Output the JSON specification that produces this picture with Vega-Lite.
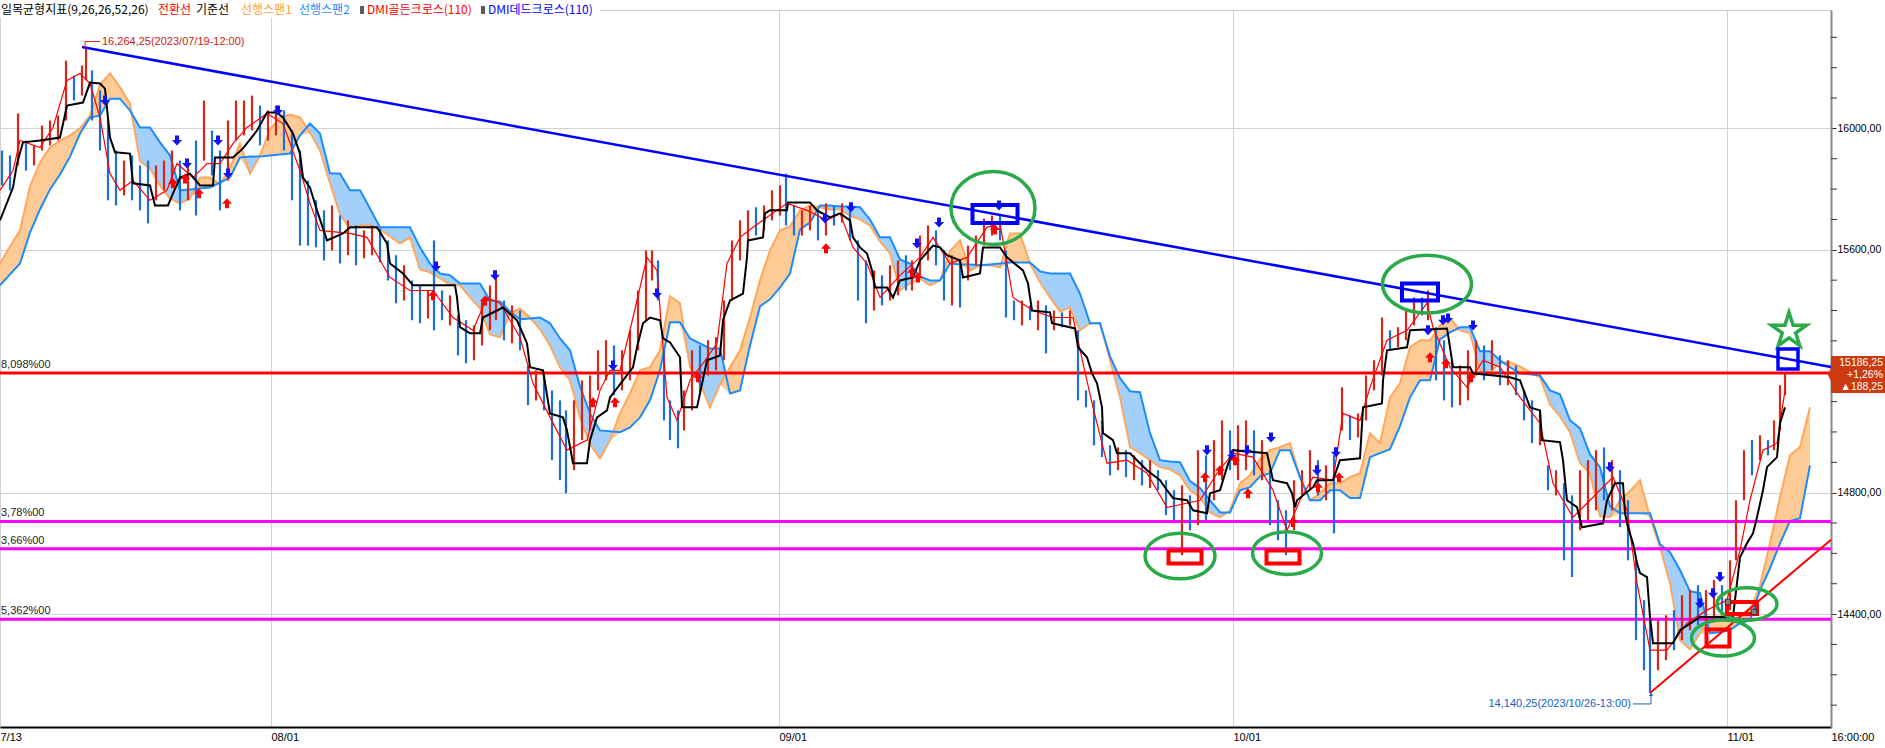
{
"$schema":"https://vega.github.io/schema/vega-lite/v6.json",
"width":1831,"height":717,
"autosize":{"type":"none"},
"padding":{"left":0,"top":10,"right":54,"bottom":21},
"background":"white",
"config":{"view":{"stroke":"#cfcfcf","strokeWidth":1},"font":"Liberation Sans"},
"resolve":{"scale":{"color":"independent"},"axis":{"x":"independent","y":"independent"}},
"datasets":{
"px":[{"i":2,"h":15927,"l":15812,"d":"d"},{"i":10,"h":15911,"l":15796,"d":"d"},{"i":18,"h":16049,"l":15878,"d":"u"},{"i":26,"h":15960,"l":15861,"d":"d"},{"i":34,"h":15944,"l":15878,"d":"u"},{"i":42,"h":16009,"l":15927,"d":"u"},{"i":50,"h":16026,"l":15944,"d":"u"},{"i":58,"h":16042,"l":15960,"d":"u"},{"i":66,"h":16223,"l":16026,"d":"u"},{"i":74,"h":16174,"l":16092,"d":"d"},{"i":82,"h":16207,"l":16108,"d":"u"},{"i":86,"h":16264,"l":16158,"d":"u"},{"i":92,"h":16191,"l":16026,"d":"d"},{"i":100,"h":16125,"l":15927,"d":"d"},{"i":108,"h":16026,"l":15763,"d":"d"},{"i":116,"h":15927,"l":15746,"d":"d"},{"i":124,"h":15894,"l":15779,"d":"u"},{"i":132,"h":15911,"l":15763,"d":"d"},{"i":140,"h":15878,"l":15730,"d":"d"},{"i":148,"h":15894,"l":15687,"d":"d"},{"i":156,"h":15878,"l":15763,"d":"u"},{"i":164,"h":15894,"l":15796,"d":"u"},{"i":172,"h":15927,"l":15812,"d":"u"},{"i":180,"h":15894,"l":15730,"d":"d"},{"i":188,"h":15894,"l":15763,"d":"u"},{"i":196,"h":15960,"l":15713,"d":"d"},{"i":204,"h":16092,"l":15894,"d":"u"},{"i":212,"h":15993,"l":15845,"d":"d"},{"i":220,"h":15927,"l":15730,"d":"d"},{"i":228,"h":16026,"l":15828,"d":"u"},{"i":236,"h":16092,"l":15960,"d":"u"},{"i":244,"h":16092,"l":15977,"d":"u"},{"i":252,"h":16108,"l":15993,"d":"u"},{"i":260,"h":16075,"l":15944,"d":"d"},{"i":268,"h":16059,"l":15960,"d":"u"},{"i":276,"h":16075,"l":15977,"d":"u"},{"i":284,"h":16059,"l":15927,"d":"d"},{"i":292,"h":15993,"l":15763,"d":"d"},{"i":300,"h":15927,"l":15614,"d":"d"},{"i":308,"h":15828,"l":15614,"d":"d"},{"i":316,"h":15763,"l":15608,"d":"d"},{"i":324,"h":15730,"l":15565,"d":"d"},{"i":332,"h":15746,"l":15598,"d":"u"},{"i":340,"h":15713,"l":15555,"d":"d"},{"i":348,"h":15697,"l":15582,"d":"u"},{"i":356,"h":15680,"l":15549,"d":"d"},{"i":364,"h":15664,"l":15572,"d":"u"},{"i":372,"h":15680,"l":15582,"d":"u"},{"i":380,"h":15670,"l":15559,"d":"d"},{"i":388,"h":15631,"l":15499,"d":"d"},{"i":396,"h":15582,"l":15424,"d":"d"},{"i":404,"h":15549,"l":15433,"d":"u"},{"i":412,"h":15499,"l":15368,"d":"d"},{"i":420,"h":15483,"l":15358,"d":"d"},{"i":428,"h":15466,"l":15374,"d":"u"},{"i":434,"h":15631,"l":15335,"d":"d"},{"i":442,"h":15466,"l":15368,"d":"d"},{"i":450,"h":15450,"l":15351,"d":"u"},{"i":458,"h":15384,"l":15252,"d":"d"},{"i":466,"h":15368,"l":15226,"d":"d"},{"i":474,"h":15351,"l":15236,"d":"u"},{"i":482,"h":15433,"l":15285,"d":"u"},{"i":490,"h":15483,"l":15335,"d":"u"},{"i":496,"h":15509,"l":15368,"d":"u"},{"i":504,"h":15433,"l":15302,"d":"d"},{"i":512,"h":15417,"l":15292,"d":"u"},{"i":520,"h":15400,"l":15269,"d":"d"},{"i":528,"h":15219,"l":15088,"d":"d"},{"i":536,"h":15203,"l":15104,"d":"u"},{"i":544,"h":15186,"l":15071,"d":"d"},{"i":552,"h":15137,"l":14907,"d":"d"},{"i":560,"h":15104,"l":14841,"d":"d"},{"i":566,"h":15071,"l":14798,"d":"d"},{"i":574,"h":15104,"l":14874,"d":"u"},{"i":582,"h":15170,"l":14973,"d":"u"},{"i":590,"h":15186,"l":15005,"d":"u"},{"i":598,"h":15269,"l":15137,"d":"u"},{"i":606,"h":15302,"l":15170,"d":"u"},{"i":614,"h":15285,"l":15121,"d":"d"},{"i":622,"h":15269,"l":15137,"d":"u"},{"i":630,"h":15335,"l":15170,"d":"u"},{"i":638,"h":15466,"l":15269,"d":"u"},{"i":646,"h":15598,"l":15368,"d":"u"},{"i":652,"h":15598,"l":15499,"d":"u"},{"i":658,"h":15565,"l":15433,"d":"d"},{"i":664,"h":15269,"l":15038,"d":"d"},{"i":670,"h":15104,"l":14973,"d":"d"},{"i":678,"h":15071,"l":14946,"d":"d"},{"i":684,"h":15137,"l":15005,"d":"u"},{"i":692,"h":15269,"l":15071,"d":"u"},{"i":700,"h":15285,"l":15121,"d":"d"},{"i":708,"h":15302,"l":15186,"d":"u"},{"i":716,"h":15312,"l":15203,"d":"u"},{"i":724,"h":15433,"l":15236,"d":"u"},{"i":732,"h":15631,"l":15433,"d":"u"},{"i":740,"h":15697,"l":15565,"d":"u"},{"i":748,"h":15730,"l":15631,"d":"u"},{"i":756,"h":15740,"l":15647,"d":"d"},{"i":764,"h":15746,"l":15664,"d":"u"},{"i":772,"h":15796,"l":15697,"d":"u"},{"i":780,"h":15812,"l":15713,"d":"u"},{"i":786,"h":15851,"l":15680,"d":"d"},{"i":794,"h":15746,"l":15647,"d":"d"},{"i":802,"h":15730,"l":15647,"d":"u"},{"i":810,"h":15746,"l":15664,"d":"u"},{"i":818,"h":15730,"l":15631,"d":"d"},{"i":826,"h":15753,"l":15647,"d":"u"},{"i":834,"h":15746,"l":15680,"d":"d"},{"i":842,"h":15753,"l":15690,"d":"u"},{"i":850,"h":15730,"l":15631,"d":"d"},{"i":858,"h":15631,"l":15433,"d":"d"},{"i":866,"h":15565,"l":15358,"d":"d"},{"i":874,"h":15532,"l":15400,"d":"u"},{"i":882,"h":15516,"l":15417,"d":"d"},{"i":890,"h":15549,"l":15433,"d":"u"},{"i":898,"h":15565,"l":15450,"d":"u"},{"i":906,"h":15582,"l":15466,"d":"d"},{"i":912,"h":15565,"l":15466,"d":"u"},{"i":920,"h":15647,"l":15516,"d":"u"},{"i":928,"h":15680,"l":15565,"d":"u"},{"i":936,"h":15664,"l":15549,"d":"d"},{"i":944,"h":15598,"l":15433,"d":"d"},{"i":952,"h":15582,"l":15417,"d":"u"},{"i":960,"h":15565,"l":15410,"d":"d"},{"i":968,"h":15614,"l":15499,"d":"u"},{"i":976,"h":15647,"l":15549,"d":"u"},{"i":984,"h":15703,"l":15614,"d":"u"},{"i":992,"h":15713,"l":15647,"d":"u"},{"i":1000,"h":15713,"l":15631,"d":"d"},{"i":1006,"h":15598,"l":15377,"d":"d"},{"i":1014,"h":15433,"l":15368,"d":"d"},{"i":1022,"h":15433,"l":15351,"d":"u"},{"i":1030,"h":15417,"l":15368,"d":"d"},{"i":1038,"h":15433,"l":15335,"d":"u"},{"i":1046,"h":15417,"l":15259,"d":"d"},{"i":1054,"h":15400,"l":15335,"d":"u"},{"i":1062,"h":15394,"l":15345,"d":"d"},{"i":1070,"h":15400,"l":15351,"d":"u"},{"i":1078,"h":15335,"l":15104,"d":"d"},{"i":1086,"h":15137,"l":15081,"d":"d"},{"i":1094,"h":15104,"l":14956,"d":"d"},{"i":1102,"h":15038,"l":14917,"d":"d"},{"i":1110,"h":14956,"l":14857,"d":"d"},{"i":1118,"h":14949,"l":14874,"d":"u"},{"i":1126,"h":14940,"l":14851,"d":"d"},{"i":1134,"h":14923,"l":14841,"d":"u"},{"i":1142,"h":14907,"l":14824,"d":"d"},{"i":1150,"h":14907,"l":14815,"d":"u"},{"i":1158,"h":14874,"l":14808,"d":"d"},{"i":1166,"h":14841,"l":14726,"d":"d"},{"i":1174,"h":14808,"l":14709,"d":"d"},{"i":1182,"h":14824,"l":14594,"d":"u"},{"i":1190,"h":14791,"l":14676,"d":"d"},{"i":1198,"h":14940,"l":14693,"d":"u"},{"i":1206,"h":14923,"l":14709,"d":"d"},{"i":1214,"h":14973,"l":14775,"d":"u"},{"i":1222,"h":15038,"l":14841,"d":"u"},{"i":1230,"h":15005,"l":14874,"d":"d"},{"i":1238,"h":15022,"l":14841,"d":"u"},{"i":1246,"h":15038,"l":14874,"d":"u"},{"i":1254,"h":15005,"l":14857,"d":"d"},{"i":1262,"h":14973,"l":14841,"d":"u"},{"i":1270,"h":14874,"l":14693,"d":"d"},{"i":1278,"h":14775,"l":14643,"d":"d"},{"i":1286,"h":14742,"l":14594,"d":"d"},{"i":1294,"h":14841,"l":14676,"d":"u"},{"i":1302,"h":14874,"l":14791,"d":"u"},{"i":1310,"h":14940,"l":14808,"d":"u"},{"i":1318,"h":14907,"l":14791,"d":"d"},{"i":1326,"h":14890,"l":14775,"d":"u"},{"i":1334,"h":14923,"l":14666,"d":"d"},{"i":1342,"h":15147,"l":15005,"d":"u"},{"i":1350,"h":15055,"l":14973,"d":"d"},{"i":1358,"h":15061,"l":14982,"d":"u"},{"i":1366,"h":15186,"l":15038,"d":"u"},{"i":1374,"h":15236,"l":15137,"d":"u"},{"i":1382,"h":15377,"l":15186,"d":"u"},{"i":1390,"h":15335,"l":15269,"d":"d"},{"i":1398,"h":15345,"l":15279,"d":"u"},{"i":1406,"h":15400,"l":15302,"d":"u"},{"i":1414,"h":15443,"l":15351,"d":"u"},{"i":1422,"h":15443,"l":15384,"d":"d"},{"i":1428,"h":15466,"l":15368,"d":"u"},{"i":1436,"h":15345,"l":15170,"d":"d"},{"i":1444,"h":15302,"l":15104,"d":"d"},{"i":1452,"h":15236,"l":15081,"d":"d"},{"i":1460,"h":15219,"l":15088,"d":"u"},{"i":1468,"h":15269,"l":15104,"d":"u"},{"i":1476,"h":15302,"l":15186,"d":"u"},{"i":1484,"h":15285,"l":15170,"d":"d"},{"i":1492,"h":15302,"l":15203,"d":"u"},{"i":1500,"h":15252,"l":15154,"d":"d"},{"i":1508,"h":15236,"l":15154,"d":"u"},{"i":1516,"h":15219,"l":15121,"d":"d"},{"i":1524,"h":15137,"l":15038,"d":"d"},{"i":1532,"h":15104,"l":14963,"d":"d"},{"i":1540,"h":15071,"l":14956,"d":"u"},{"i":1548,"h":14890,"l":14808,"d":"d"},{"i":1556,"h":14874,"l":14791,"d":"u"},{"i":1564,"h":14831,"l":14577,"d":"d"},{"i":1572,"h":14791,"l":14522,"d":"d"},{"i":1580,"h":14874,"l":14676,"d":"u"},{"i":1588,"h":14907,"l":14709,"d":"u"},{"i":1596,"h":14940,"l":14742,"d":"u"},{"i":1604,"h":14949,"l":14775,"d":"d"},{"i":1612,"h":14907,"l":14742,"d":"u"},{"i":1620,"h":14874,"l":14686,"d":"d"},{"i":1628,"h":14775,"l":14577,"d":"d"},{"i":1636,"h":14577,"l":14314,"d":"d"},{"i":1644,"h":14446,"l":14215,"d":"d"},{"i":1650,"h":14380,"l":14140,"d":"d"},{"i":1658,"h":14380,"l":14215,"d":"u"},{"i":1666,"h":14396,"l":14248,"d":"u"},{"i":1674,"h":14413,"l":14281,"d":"d"},{"i":1682,"h":14462,"l":14314,"d":"u"},{"i":1690,"h":14479,"l":14347,"d":"u"},{"i":1698,"h":14495,"l":14363,"d":"d"},{"i":1706,"h":14479,"l":14347,"d":"u"},{"i":1714,"h":14512,"l":14380,"d":"u"},{"i":1722,"h":14495,"l":14396,"d":"d"},{"i":1730,"h":14577,"l":14413,"d":"u"},{"i":1736,"h":14775,"l":14577,"d":"u"},{"i":1744,"h":14940,"l":14775,"d":"u"},{"i":1752,"h":14973,"l":14857,"d":"d"},{"i":1760,"h":14989,"l":14907,"d":"u"},{"i":1768,"h":14973,"l":14923,"d":"d"},{"i":1774,"h":15038,"l":14940,"d":"u"},{"i":1780,"h":15154,"l":15005,"d":"u"},{"i":1785,"h":15193,"l":15121,"d":"u"}],
"cloud":[{"i":0,"a":15555,"b":15483,"m":15483},{"i":10,"a":15611,"b":15519,"m":15519},{"i":20,"a":15664,"b":15555,"m":15555},{"i":30,"a":15809,"b":15657,"m":15657},{"i":40,"a":15888,"b":15733,"m":15733},{"i":50,"a":15937,"b":15799,"m":15799},{"i":60,"a":15960,"b":15848,"m":15848},{"i":70,"a":15977,"b":15907,"m":15907},{"i":80,"a":16000,"b":15983,"m":15983},{"i":90,"a":16042,"b":16036,"m":16036},{"i":100,"a":16144,"b":16042,"m":16042},{"i":110,"a":16181,"b":16098,"m":16098},{"i":120,"a":16135,"b":16098,"m":16098},{"i":130,"a":16082,"b":16059,"m":16059},{"i":140,"a":15891,"b":16003,"m":15891},{"i":150,"a":15868,"b":16003,"m":15868},{"i":160,"a":15812,"b":15954,"m":15812},{"i":170,"a":15769,"b":15911,"m":15769},{"i":180,"a":15753,"b":15796,"m":15753},{"i":190,"a":15769,"b":15799,"m":15769},{"i":200,"a":15838,"b":15802,"m":15802},{"i":210,"a":15838,"b":15805,"m":15805},{"i":220,"a":15815,"b":15822,"m":15815},{"i":230,"a":15871,"b":15838,"m":15838},{"i":240,"a":15950,"b":15904,"m":15904},{"i":250,"a":15851,"b":15907,"m":15851},{"i":260,"a":15911,"b":15907,"m":15907},{"i":270,"a":15996,"b":15911,"m":15911},{"i":280,"a":16036,"b":15914,"m":15914},{"i":290,"a":16046,"b":15917,"m":15917},{"i":300,"a":16036,"b":15977,"m":15977},{"i":310,"a":15986,"b":16016,"m":15986},{"i":320,"a":15927,"b":15983,"m":15927},{"i":330,"a":15819,"b":15851,"m":15819},{"i":340,"a":15716,"b":15851,"m":15716},{"i":350,"a":15670,"b":15796,"m":15670},{"i":360,"a":15680,"b":15796,"m":15680},{"i":370,"a":15680,"b":15736,"m":15680},{"i":380,"a":15667,"b":15674,"m":15667},{"i":390,"a":15644,"b":15674,"m":15644},{"i":400,"a":15621,"b":15674,"m":15621},{"i":410,"a":15641,"b":15674,"m":15641},{"i":420,"a":15535,"b":15608,"m":15535},{"i":430,"a":15526,"b":15555,"m":15526},{"i":440,"a":15506,"b":15522,"m":15506},{"i":450,"a":15486,"b":15516,"m":15486},{"i":460,"a":15483,"b":15489,"m":15483},{"i":470,"a":15443,"b":15489,"m":15443},{"i":480,"a":15407,"b":15489,"m":15407},{"i":490,"a":15321,"b":15433,"m":15321},{"i":500,"a":15312,"b":15430,"m":15312},{"i":510,"a":15391,"b":15397,"m":15391},{"i":520,"a":15407,"b":15371,"m":15371},{"i":530,"a":15377,"b":15374,"m":15374},{"i":540,"a":15338,"b":15377,"m":15338},{"i":550,"a":15285,"b":15358,"m":15285},{"i":560,"a":15213,"b":15308,"m":15213},{"i":570,"a":15170,"b":15269,"m":15170},{"i":580,"a":15048,"b":15150,"m":15048},{"i":590,"a":14959,"b":15061,"m":14959},{"i":600,"a":14913,"b":15005,"m":14913},{"i":610,"a":14972,"b":15002,"m":14972},{"i":620,"a":15061,"b":14999,"m":14999},{"i":630,"a":15127,"b":15015,"m":15015},{"i":640,"a":15203,"b":15048,"m":15048},{"i":650,"a":15213,"b":15104,"m":15104},{"i":660,"a":15269,"b":15203,"m":15203},{"i":670,"a":15447,"b":15361,"m":15361},{"i":680,"a":15424,"b":15361,"m":15361},{"i":690,"a":15213,"b":15308,"m":15213},{"i":700,"a":15160,"b":15292,"m":15160},{"i":710,"a":15081,"b":15275,"m":15081},{"i":720,"a":15157,"b":15275,"m":15157},{"i":730,"a":15213,"b":15127,"m":15127},{"i":740,"a":15269,"b":15137,"m":15137},{"i":750,"a":15377,"b":15285,"m":15285},{"i":760,"a":15499,"b":15414,"m":15414},{"i":770,"a":15598,"b":15437,"m":15437},{"i":780,"a":15664,"b":15476,"m":15476},{"i":790,"a":15677,"b":15522,"m":15522},{"i":800,"a":15730,"b":15667,"m":15667},{"i":810,"a":15746,"b":15690,"m":15690},{"i":820,"a":15740,"b":15746,"m":15740},{"i":830,"a":15733,"b":15746,"m":15733},{"i":840,"a":15733,"b":15743,"m":15733},{"i":850,"a":15713,"b":15743,"m":15713},{"i":860,"a":15700,"b":15740,"m":15700},{"i":870,"a":15680,"b":15700,"m":15680},{"i":880,"a":15628,"b":15641,"m":15628},{"i":890,"a":15588,"b":15641,"m":15588},{"i":900,"a":15466,"b":15568,"m":15466},{"i":910,"a":15489,"b":15555,"m":15489},{"i":920,"a":15506,"b":15512,"m":15506},{"i":930,"a":15483,"b":15499,"m":15483},{"i":940,"a":15499,"b":15499,"m":15499},{"i":950,"a":15595,"b":15555,"m":15555},{"i":960,"a":15631,"b":15552,"m":15552},{"i":970,"a":15532,"b":15552,"m":15532},{"i":980,"a":15549,"b":15549,"m":15549},{"i":990,"a":15549,"b":15552,"m":15549},{"i":1000,"a":15542,"b":15555,"m":15542},{"i":1010,"a":15654,"b":15558,"m":15558},{"i":1020,"a":15654,"b":15558,"m":15558},{"i":1030,"a":15555,"b":15558,"m":15555},{"i":1040,"a":15493,"b":15529,"m":15493},{"i":1050,"a":15443,"b":15522,"m":15443},{"i":1060,"a":15397,"b":15522,"m":15397},{"i":1070,"a":15410,"b":15522,"m":15410},{"i":1080,"a":15335,"b":15456,"m":15335},{"i":1090,"a":15358,"b":15358,"m":15358},{"i":1100,"a":15358,"b":15358,"m":15358},{"i":1110,"a":15236,"b":15249,"m":15236},{"i":1120,"a":15114,"b":15177,"m":15114},{"i":1130,"a":14950,"b":15134,"m":14950},{"i":1140,"a":14930,"b":15131,"m":14930},{"i":1150,"a":14907,"b":14996,"m":14907},{"i":1160,"a":14884,"b":14907,"m":14884},{"i":1170,"a":14877,"b":14903,"m":14877},{"i":1180,"a":14857,"b":14900,"m":14857},{"i":1190,"a":14808,"b":14838,"m":14808},{"i":1200,"a":14785,"b":14815,"m":14785},{"i":1210,"a":14735,"b":14775,"m":14735},{"i":1220,"a":14719,"b":14735,"m":14719},{"i":1230,"a":14742,"b":14735,"m":14735},{"i":1240,"a":14831,"b":14808,"m":14808},{"i":1250,"a":14857,"b":14818,"m":14818},{"i":1260,"a":14910,"b":14854,"m":14854},{"i":1270,"a":14940,"b":14864,"m":14864},{"i":1280,"a":14950,"b":14940,"m":14940},{"i":1290,"a":14963,"b":14940,"m":14940},{"i":1300,"a":14851,"b":14851,"m":14851},{"i":1310,"a":14775,"b":14775,"m":14775},{"i":1320,"a":14798,"b":14775,"m":14775},{"i":1330,"a":14831,"b":14808,"m":14808},{"i":1340,"a":14831,"b":14808,"m":14808},{"i":1350,"a":14851,"b":14782,"m":14782},{"i":1360,"a":14864,"b":14782,"m":14782},{"i":1370,"a":14996,"b":14917,"m":14917},{"i":1380,"a":14963,"b":14930,"m":14930},{"i":1390,"a":15114,"b":14943,"m":14943},{"i":1400,"a":15160,"b":15019,"m":15019},{"i":1410,"a":15279,"b":15114,"m":15114},{"i":1420,"a":15302,"b":15170,"m":15170},{"i":1430,"a":15302,"b":15170,"m":15170},{"i":1440,"a":15351,"b":15305,"m":15305},{"i":1450,"a":15374,"b":15328,"m":15328},{"i":1460,"a":15335,"b":15345,"m":15335},{"i":1470,"a":15325,"b":15345,"m":15325},{"i":1480,"a":15203,"b":15266,"m":15203},{"i":1490,"a":15196,"b":15266,"m":15196},{"i":1500,"a":15229,"b":15236,"m":15229},{"i":1510,"a":15229,"b":15213,"m":15213},{"i":1520,"a":15216,"b":15193,"m":15193},{"i":1530,"a":15196,"b":15190,"m":15190},{"i":1540,"a":15180,"b":15186,"m":15180},{"i":1550,"a":15091,"b":15137,"m":15091},{"i":1560,"a":15051,"b":15124,"m":15051},{"i":1570,"a":14999,"b":15038,"m":14999},{"i":1580,"a":14897,"b":15012,"m":14897},{"i":1590,"a":14864,"b":14926,"m":14864},{"i":1600,"a":14722,"b":14884,"m":14722},{"i":1610,"a":14719,"b":14755,"m":14719},{"i":1620,"a":14775,"b":14732,"m":14732},{"i":1630,"a":14805,"b":14732,"m":14732},{"i":1640,"a":14841,"b":14732,"m":14732},{"i":1650,"a":14719,"b":14732,"m":14719},{"i":1660,"a":14620,"b":14630,"m":14620},{"i":1670,"a":14502,"b":14604,"m":14502},{"i":1680,"a":14314,"b":14545,"m":14314},{"i":1690,"a":14284,"b":14475,"m":14284},{"i":1700,"a":14337,"b":14469,"m":14337},{"i":1710,"a":14390,"b":14337,"m":14337},{"i":1720,"a":14393,"b":14340,"m":14340},{"i":1730,"a":14397,"b":14347,"m":14347},{"i":1740,"a":14400,"b":14370,"m":14370},{"i":1750,"a":14410,"b":14380,"m":14380},{"i":1760,"a":14495,"b":14479,"m":14479},{"i":1770,"a":14633,"b":14551,"m":14551},{"i":1780,"a":14785,"b":14633,"m":14633},{"i":1790,"a":14923,"b":14706,"m":14706},{"i":1800,"a":14950,"b":14716,"m":14716},{"i":1810,"a":15081,"b":14890,"m":14890}],
"tk":[{"i":0,"v":15796},{"i":13,"v":15861},{"i":20,"v":15960},{"i":40,"v":15937},{"i":53,"v":16003},{"i":67,"v":16158},{"i":80,"v":16181},{"i":90,"v":16148},{"i":100,"v":16036},{"i":110,"v":15851},{"i":120,"v":15796},{"i":133,"v":15828},{"i":150,"v":15763},{"i":167,"v":15796},{"i":177,"v":15884},{"i":193,"v":15838},{"i":207,"v":15884},{"i":220,"v":15884},{"i":233,"v":15950},{"i":247,"v":16003},{"i":267,"v":16049},{"i":283,"v":16016},{"i":300,"v":15861},{"i":310,"v":15753},{"i":320,"v":15664},{"i":350,"v":15654},{"i":367,"v":15641},{"i":390,"v":15509},{"i":410,"v":15466},{"i":433,"v":15466},{"i":453,"v":15377},{"i":473,"v":15335},{"i":487,"v":15443},{"i":500,"v":15424},{"i":520,"v":15312},{"i":533,"v":15160},{"i":553,"v":15029},{"i":567,"v":14940},{"i":587,"v":14973},{"i":600,"v":15137},{"i":610,"v":15203},{"i":620,"v":15203},{"i":633,"v":15377},{"i":647,"v":15575},{"i":657,"v":15532},{"i":667,"v":15114},{"i":677,"v":15038},{"i":690,"v":15170},{"i":703,"v":15226},{"i":717,"v":15292},{"i":727,"v":15555},{"i":740,"v":15641},{"i":753,"v":15674},{"i":767,"v":15707},{"i":787,"v":15753},{"i":807,"v":15730},{"i":827,"v":15697},{"i":840,"v":15720},{"i":853,"v":15608},{"i":867,"v":15555},{"i":880,"v":15443},{"i":900,"v":15516},{"i":920,"v":15575},{"i":933,"v":15641},{"i":950,"v":15555},{"i":967,"v":15575},{"i":987,"v":15674},{"i":1000,"v":15687},{"i":1013,"v":15443},{"i":1033,"v":15400},{"i":1053,"v":15377},{"i":1073,"v":15377},{"i":1083,"v":15226},{"i":1093,"v":15081},{"i":1107,"v":14897},{"i":1127,"v":14907},{"i":1147,"v":14864},{"i":1167,"v":14752},{"i":1187,"v":14765},{"i":1200,"v":14775},{"i":1217,"v":14864},{"i":1233,"v":14930},{"i":1253,"v":14917},{"i":1273,"v":14808},{"i":1287,"v":14676},{"i":1300,"v":14775},{"i":1313,"v":14851},{"i":1333,"v":14841},{"i":1343,"v":15061},{"i":1360,"v":15038},{"i":1370,"v":15147},{"i":1387,"v":15302},{"i":1407,"v":15335},{"i":1427,"v":15424},{"i":1433,"v":15345},{"i":1450,"v":15213},{"i":1467,"v":15147},{"i":1483,"v":15236},{"i":1500,"v":15213},{"i":1520,"v":15114},{"i":1540,"v":15029},{"i":1553,"v":14831},{"i":1573,"v":14719},{"i":1587,"v":14765},{"i":1613,"v":14851},{"i":1627,"v":14742},{"i":1637,"v":14502},{"i":1650,"v":14281},{"i":1667,"v":14281},{"i":1687,"v":14370},{"i":1707,"v":14413},{"i":1727,"v":14446},{"i":1740,"v":14610},{"i":1750,"v":14775},{"i":1763,"v":14940},{"i":1777,"v":14963},{"i":1785,"v":15137}],
"kj":[{"i":0,"v":15697},{"i":13,"v":15805},{"i":17,"v":15884},{"i":23,"v":15954},{"i":40,"v":15960},{"i":60,"v":15970},{"i":67,"v":16075},{"i":83,"v":16085},{"i":90,"v":16151},{"i":100,"v":16148},{"i":105,"v":16131},{"i":110,"v":15970},{"i":115,"v":15921},{"i":130,"v":15917},{"i":133,"v":15819},{"i":150,"v":15812},{"i":155,"v":15746},{"i":168,"v":15746},{"i":173,"v":15786},{"i":180,"v":15838},{"i":190,"v":15851},{"i":200,"v":15812},{"i":213,"v":15812},{"i":215,"v":15904},{"i":233,"v":15904},{"i":243,"v":15934},{"i":257,"v":15993},{"i":267,"v":16052},{"i":277,"v":16052},{"i":283,"v":16036},{"i":293,"v":15983},{"i":300,"v":15917},{"i":303,"v":15838},{"i":310,"v":15805},{"i":317,"v":15730},{"i":327,"v":15631},{"i":343,"v":15654},{"i":350,"v":15674},{"i":377,"v":15674},{"i":387,"v":15621},{"i":390,"v":15555},{"i":403,"v":15522},{"i":413,"v":15483},{"i":455,"v":15483},{"i":457,"v":15443},{"i":460,"v":15345},{"i":470,"v":15325},{"i":480,"v":15325},{"i":483,"v":15377},{"i":503,"v":15410},{"i":517,"v":15368},{"i":527,"v":15292},{"i":530,"v":15213},{"i":543,"v":15203},{"i":550,"v":15061},{"i":563,"v":15048},{"i":567,"v":15005},{"i":573,"v":14897},{"i":587,"v":14897},{"i":590,"v":14973},{"i":597,"v":15048},{"i":607,"v":15071},{"i":610,"v":15114},{"i":633,"v":15213},{"i":637,"v":15279},{"i":643,"v":15358},{"i":650,"v":15377},{"i":660,"v":15368},{"i":663,"v":15308},{"i":670,"v":15295},{"i":680,"v":15246},{"i":682,"v":15081},{"i":697,"v":15081},{"i":700,"v":15127},{"i":707,"v":15236},{"i":720,"v":15252},{"i":723,"v":15368},{"i":730,"v":15433},{"i":743,"v":15456},{"i":747,"v":15575},{"i":748,"v":15631},{"i":763,"v":15641},{"i":765,"v":15720},{"i":770,"v":15730},{"i":787,"v":15730},{"i":788,"v":15756},{"i":810,"v":15756},{"i":817,"v":15730},{"i":830,"v":15707},{"i":840,"v":15720},{"i":850,"v":15697},{"i":853,"v":15641},{"i":860,"v":15608},{"i":867,"v":15588},{"i":872,"v":15532},{"i":875,"v":15476},{"i":887,"v":15476},{"i":893,"v":15443},{"i":900,"v":15499},{"i":913,"v":15509},{"i":920,"v":15565},{"i":933,"v":15614},{"i":940,"v":15608},{"i":947,"v":15582},{"i":960,"v":15565},{"i":963,"v":15509},{"i":980,"v":15522},{"i":983,"v":15608},{"i":1000,"v":15608},{"i":1007,"v":15575},{"i":1023,"v":15532},{"i":1028,"v":15489},{"i":1032,"v":15400},{"i":1050,"v":15394},{"i":1052,"v":15358},{"i":1075,"v":15341},{"i":1078,"v":15279},{"i":1087,"v":15246},{"i":1092,"v":15193},{"i":1097,"v":15160},{"i":1102,"v":15081},{"i":1103,"v":14996},{"i":1113,"v":14973},{"i":1117,"v":14930},{"i":1130,"v":14930},{"i":1140,"v":14897},{"i":1147,"v":14874},{"i":1160,"v":14841},{"i":1167,"v":14808},{"i":1173,"v":14782},{"i":1187,"v":14775},{"i":1193,"v":14742},{"i":1207,"v":14732},{"i":1210,"v":14798},{"i":1220,"v":14808},{"i":1227,"v":14884},{"i":1233,"v":14940},{"i":1267,"v":14930},{"i":1273,"v":14841},{"i":1287,"v":14831},{"i":1292,"v":14798},{"i":1295,"v":14752},{"i":1297,"v":14775},{"i":1313,"v":14818},{"i":1317,"v":14841},{"i":1333,"v":14841},{"i":1340,"v":14907},{"i":1360,"v":14913},{"i":1363,"v":15081},{"i":1382,"v":15094},{"i":1383,"v":15170},{"i":1387,"v":15269},{"i":1407,"v":15279},{"i":1410,"v":15335},{"i":1447,"v":15341},{"i":1450,"v":15279},{"i":1453,"v":15213},{"i":1470,"v":15213},{"i":1473,"v":15193},{"i":1510,"v":15180},{"i":1520,"v":15170},{"i":1530,"v":15081},{"i":1540,"v":15071},{"i":1542,"v":14973},{"i":1560,"v":14966},{"i":1563,"v":14907},{"i":1567,"v":14775},{"i":1577,"v":14752},{"i":1582,"v":14686},{"i":1603,"v":14699},{"i":1607,"v":14775},{"i":1615,"v":14831},{"i":1623,"v":14831},{"i":1625,"v":14732},{"i":1628,"v":14686},{"i":1633,"v":14633},{"i":1637,"v":14568},{"i":1640,"v":14535},{"i":1647,"v":14522},{"i":1650,"v":14390},{"i":1653,"v":14304},{"i":1673,"v":14304},{"i":1680,"v":14347},{"i":1700,"v":14390},{"i":1733,"v":14390},{"i":1740,"v":14587},{"i":1747,"v":14633},{"i":1753,"v":14666},{"i":1757,"v":14719},{"i":1763,"v":14808},{"i":1767,"v":14884},{"i":1777,"v":14917},{"i":1780,"v":15029},{"i":1785,"v":15081}],
"dn":[{"i":105,"v":16092},{"i":177,"v":15960},{"i":187,"v":15884},{"i":218,"v":15960},{"i":228,"v":15851},{"i":278,"v":16059},{"i":436,"v":15545},{"i":495,"v":15516},{"i":613,"v":15219},{"i":657,"v":15456},{"i":825,"v":15703},{"i":851,"v":15740},{"i":917,"v":15621},{"i":939,"v":15690},{"i":999,"v":15746},{"i":1207,"v":14940},{"i":1232,"v":14923},{"i":1247,"v":14940},{"i":1271,"v":14982},{"i":1317,"v":14874},{"i":1336,"v":14933},{"i":1428,"v":15335},{"i":1443,"v":15368},{"i":1448,"v":15374},{"i":1473,"v":15351},{"i":1610,"v":14884},{"i":1700,"v":14436},{"i":1713,"v":14469},{"i":1720,"v":14522}],
"up":[{"i":173,"v":15819},{"i":185,"v":15835},{"i":199,"v":15786},{"i":227,"v":15753},{"i":433,"v":15450},{"i":485,"v":15433},{"i":593,"v":15098},{"i":615,"v":15098},{"i":698,"v":15180},{"i":826,"v":15605},{"i":912,"v":15526},{"i":918,"v":15509},{"i":995,"v":15667},{"i":1205,"v":14851},{"i":1220,"v":14874},{"i":1235,"v":14907},{"i":1248,"v":14798},{"i":1293,"v":14703},{"i":1318,"v":14818},{"i":1339,"v":14851},{"i":1430,"v":15246},{"i":1446,"v":15226},{"i":1471,"v":15180}],
"minor":[{"i":1834,"v":14100},{"i":1834,"v":14200},{"i":1834,"v":14300},{"i":1834,"v":14500},{"i":1834,"v":14600},{"i":1834,"v":14700},{"i":1834,"v":14900},{"i":1834,"v":15000},{"i":1834,"v":15100},{"i":1834,"v":15200},{"i":1834,"v":15300},{"i":1834,"v":15400},{"i":1834,"v":15500},{"i":1834,"v":15700},{"i":1834,"v":15800},{"i":1834,"v":15900},{"i":1834,"v":16100},{"i":1834,"v":16200},{"i":1834,"v":16300}]
},
"layer":[
{"data":{"name":"cloud"},"mark":{"type":"area","color":"#a3d0fb","opacity":1},
 "encoding":{"x":{"field":"i","type":"quantitative","scale":{"domain":[0,1831],"nice":false,"zero":false},
   "axis":{"values":[0,271,779,1233,1727,1831],"labelExpr":"datum.value==0?'7/13':datum.value==271?'08/01':datum.value==779?'09/01':datum.value==1233?'10/01':datum.value==1727?'11/01':'16:00:00'","labelAlign":"left","labelFlush":false,"labelOverlap":false,"labelBound":false,"grid":true,"gridColor":"#d2d2d2","gridWidth":1,"domainColor":"#000000","domainWidth":2,"ticks":false,"labelPadding":4,"labelFont":"Liberation Sans","labelFontSize":11,"labelColor":"#000000","title":null}},
  "y":{"field":"b","type":"quantitative","scale":{"domain":[14028,16390],"nice":false,"zero":false},
   "axis":{"orient":"right","values":[14400,14800,15600,16000],"labelExpr":"replace(format(datum.value,'.2f'),'.',',')","grid":true,"gridColor":"#d2d2d2","gridWidth":1,"tickSize":5,"tickColor":"#333333","domainColor":"#8a8a8a","domainWidth":2,"labelFont":"Liberation Sans","labelFontSize":10.5,"labelColor":"#000000","labelPadding":1,"labelOverlap":false,"labelFlush":false,"labelBound":false,"title":null}},
  "y2":{"field":"m"}}},
{"data":{"name":"cloud"},"mark":{"type":"area","color":"#fecb97","opacity":1},
 "encoding":{"x":{"field":"i","type":"quantitative","scale":{"domain":[0,1831],"nice":false,"zero":false},"axis":null},"y":{"field":"a","type":"quantitative","scale":{"domain":[14028,16390],"nice":false,"zero":false},"axis":null},"y2":{"field":"m"}}},
{"data":{"name":"cloud"},"mark":{"type":"line","color":"#ffa75c","strokeWidth":2},
 "encoding":{"x":{"field":"i","type":"quantitative","scale":{"domain":[0,1831],"nice":false,"zero":false},"axis":null},"y":{"field":"a","type":"quantitative","scale":{"domain":[14028,16390],"nice":false,"zero":false},"axis":null}}},
{"data":{"name":"cloud"},"mark":{"type":"line","color":"#1a8cff","strokeWidth":2},
 "encoding":{"x":{"field":"i","type":"quantitative","scale":{"domain":[0,1831],"nice":false,"zero":false},"axis":null},"y":{"field":"b","type":"quantitative","scale":{"domain":[14028,16390],"nice":false,"zero":false},"axis":null}}},
{"data":{"values":[{"v":15194,"k":"r"},{"v":14705,"k":"m"},{"v":14615,"k":"m"},{"v":14383,"k":"m"}]},"mark":{"type":"rule","strokeWidth":3},
 "encoding":{"y":{"field":"v","type":"quantitative","scale":{"domain":[14028,16390],"nice":false,"zero":false},"axis":null},"color":{"field":"k","type":"nominal","scale":{"domain":["r","m"],"range":["#ff0000","#ff00ff"]},"legend":null}}},
{"data":{"name":"minor"},"mark":{"type":"point","shape":"stroke","size":36,"filled":false,"color":"#333333","strokeWidth":1,"opacity":1},
 "encoding":{"x":{"field":"i","type":"quantitative","scale":{"domain":[0,1831],"nice":false,"zero":false},"axis":null},"y":{"field":"v","type":"quantitative","scale":{"domain":[14028,16390],"nice":false,"zero":false},"axis":null}}},
{"data":{"values":[{"i":1,"v":15194,"t":"8,098%00"},{"i":1,"v":14705,"t":"3,78%00"},{"i":1,"v":14615,"t":"3,66%00"},{"i":1,"v":14383,"t":"5,362%00"}]},"mark":{"type":"text","align":"left","baseline":"bottom","dy":-3,"font":"Liberation Sans","fontSize":11,"color":"#222222"},
 "encoding":{"x":{"field":"i","type":"quantitative","scale":{"domain":[0,1831],"nice":false,"zero":false},"axis":null},"y":{"field":"v","type":"quantitative","scale":{"domain":[14028,16390],"nice":false,"zero":false},"axis":null},"text":{"field":"t"}}},
{"data":{"name":"px"},"mark":{"type":"rule","strokeWidth":2.2},
 "encoding":{"x":{"field":"i","type":"quantitative","scale":{"domain":[0,1831],"nice":false,"zero":false},"axis":null},"y":{"field":"h","type":"quantitative","scale":{"domain":[14028,16390],"nice":false,"zero":false},"axis":null},"y2":{"field":"l"},"color":{"field":"d","type":"nominal","scale":{"domain":["u","d"],"range":["#d5261c","#1d6fd6"]},"legend":null}}},
{"data":{"name":"tk"},"mark":{"type":"line","color":"#ff0000","strokeWidth":1.2},
 "encoding":{"x":{"field":"i","type":"quantitative","scale":{"domain":[0,1831],"nice":false,"zero":false},"axis":null},"y":{"field":"v","type":"quantitative","scale":{"domain":[14028,16390],"nice":false,"zero":false},"axis":null}}},
{"data":{"name":"kj"},"mark":{"type":"line","color":"#000000","strokeWidth":2},
 "encoding":{"x":{"field":"i","type":"quantitative","scale":{"domain":[0,1831],"nice":false,"zero":false},"axis":null},"y":{"field":"v","type":"quantitative","scale":{"domain":[14028,16390],"nice":false,"zero":false},"axis":null}}},
{"data":{"values":[{"i":82,"v":16268},{"i":1831,"v":15214}]},"mark":{"type":"line","color":"#0000ff","strokeWidth":2.5},
 "encoding":{"x":{"field":"i","type":"quantitative","scale":{"domain":[0,1831],"nice":false,"zero":false},"axis":null},"y":{"field":"v","type":"quantitative","scale":{"domain":[14028,16390],"nice":false,"zero":false},"axis":null}}},
{"data":{"values":[{"i":1650,"v":14140},{"i":1831,"v":14645}]},"mark":{"type":"line","color":"#ff0000","strokeWidth":2},
 "encoding":{"x":{"field":"i","type":"quantitative","scale":{"domain":[0,1831],"nice":false,"zero":false},"axis":null},"y":{"field":"v","type":"quantitative","scale":{"domain":[14028,16390],"nice":false,"zero":false},"axis":null}}},
{"data":{"name":"dn"},"mark":{"type":"point","shape":"M-0.4,-1H0.4V-0.1H1L0,1L-1,-0.1H-0.4Z","size":100,"filled":true,"color":"#1010f0","opacity":1,"strokeWidth":0},
 "encoding":{"x":{"field":"i","type":"quantitative","scale":{"domain":[0,1831],"nice":false,"zero":false},"axis":null},"y":{"field":"v","type":"quantitative","scale":{"domain":[14028,16390],"nice":false,"zero":false},"axis":null}}},
{"data":{"name":"up"},"mark":{"type":"point","shape":"M-0.4,1H0.4V0.1H1L0,-1L-1,0.1H-0.4Z","size":100,"filled":true,"color":"#ff0000","opacity":1,"strokeWidth":0},
 "encoding":{"x":{"field":"i","type":"quantitative","scale":{"domain":[0,1831],"nice":false,"zero":false},"axis":null},"y":{"field":"v","type":"quantitative","scale":{"domain":[14028,16390],"nice":false,"zero":false},"axis":null}}},
{"data":{"values":[{"i":993,"v":15738}]},"mark":{"type":"point","shape":"M-1,0A1,0.87 0 1,0 1,0A1,0.87 0 1,0 -1,0Z","size":7056,"filled":false,"color":"#2aab4a","strokeWidth":3.5,"opacity":1},
 "encoding":{"x":{"field":"i","type":"quantitative","scale":{"domain":[0,1831],"nice":false,"zero":false},"axis":null},"y":{"field":"v","type":"quantitative","scale":{"domain":[14028,16390],"nice":false,"zero":false},"axis":null}}},
{"data":{"values":[{"i":1427,"v":15487}]},"mark":{"type":"point","shape":"M-1,0A1,0.65 0 1,0 1,0A1,0.65 0 1,0 -1,0Z","size":7921,"filled":false,"color":"#2aab4a","strokeWidth":3.5,"opacity":1},
 "encoding":{"x":{"field":"i","type":"quantitative","scale":{"domain":[0,1831],"nice":false,"zero":false},"axis":null},"y":{"field":"v","type":"quantitative","scale":{"domain":[14028,16390],"nice":false,"zero":false},"axis":null}}},
{"data":{"values":[{"i":1180,"v":14591}]},"mark":{"type":"point","shape":"M-1,0A1,0.65 0 1,0 1,0A1,0.65 0 1,0 -1,0Z","size":4900,"filled":false,"color":"#2aab4a","strokeWidth":3.5,"opacity":1},
 "encoding":{"x":{"field":"i","type":"quantitative","scale":{"domain":[0,1831],"nice":false,"zero":false},"axis":null},"y":{"field":"v","type":"quantitative","scale":{"domain":[14028,16390],"nice":false,"zero":false},"axis":null}}},
{"data":{"values":[{"i":1287,"v":14601}]},"mark":{"type":"point","shape":"M-1,0A1,0.62 0 1,0 1,0A1,0.62 0 1,0 -1,0Z","size":4761,"filled":false,"color":"#2aab4a","strokeWidth":3.5,"opacity":1},
 "encoding":{"x":{"field":"i","type":"quantitative","scale":{"domain":[0,1831],"nice":false,"zero":false},"axis":null},"y":{"field":"v","type":"quantitative","scale":{"domain":[14028,16390],"nice":false,"zero":false},"axis":null}}},
{"data":{"values":[{"i":1723,"v":14321}]},"mark":{"type":"point","shape":"M-1,0A1,0.57 0 1,0 1,0A1,0.57 0 1,0 -1,0Z","size":3969,"filled":false,"color":"#2aab4a","strokeWidth":3.5,"opacity":1},
 "encoding":{"x":{"field":"i","type":"quantitative","scale":{"domain":[0,1831],"nice":false,"zero":false},"axis":null},"y":{"field":"v","type":"quantitative","scale":{"domain":[14028,16390],"nice":false,"zero":false},"axis":null}}},
{"data":{"values":[{"i":1747,"v":14433}]},"mark":{"type":"point","shape":"M-1,0A1,0.54 0 1,0 1,0A1,0.54 0 1,0 -1,0Z","size":3600,"filled":false,"color":"#2aab4a","strokeWidth":3.5,"opacity":1},
 "encoding":{"x":{"field":"i","type":"quantitative","scale":{"domain":[0,1831],"nice":false,"zero":false},"axis":null},"y":{"field":"v","type":"quantitative","scale":{"domain":[14028,16390],"nice":false,"zero":false},"axis":null}}},
{"data":{"values":[{"i":995,"v":15718}]},"mark":{"type":"point","shape":"M-1,-0.4H1V0.4H-1Z","size":2025,"filled":false,"color":"#0000ff","strokeWidth":4,"opacity":1},
 "encoding":{"x":{"field":"i","type":"quantitative","scale":{"domain":[0,1831],"nice":false,"zero":false},"axis":null},"y":{"field":"v","type":"quantitative","scale":{"domain":[14028,16390],"nice":false,"zero":false},"axis":null}}},
{"data":{"values":[{"i":1420,"v":15461}]},"mark":{"type":"point","shape":"M-1,-0.47H1V0.47H-1Z","size":1296,"filled":false,"color":"#0000ff","strokeWidth":4,"opacity":1},
 "encoding":{"x":{"field":"i","type":"quantitative","scale":{"domain":[0,1831],"nice":false,"zero":false},"axis":null},"y":{"field":"v","type":"quantitative","scale":{"domain":[14028,16390],"nice":false,"zero":false},"axis":null}}},
{"data":{"values":[{"i":1185,"v":14588},{"i":1283,"v":14588}]},"mark":{"type":"point","shape":"M-1,-0.4H1V0.4H-1Z","size":1089,"filled":false,"color":"#ff0000","strokeWidth":4,"opacity":1},
 "encoding":{"x":{"field":"i","type":"quantitative","scale":{"domain":[0,1831],"nice":false,"zero":false},"axis":null},"y":{"field":"v","type":"quantitative","scale":{"domain":[14028,16390],"nice":false,"zero":false},"axis":null}}},
{"data":{"values":[{"i":1718,"v":14321}]},"mark":{"type":"point","shape":"M-1,-0.74H1V0.74H-1Z","size":529,"filled":false,"color":"#ff0000","strokeWidth":4,"opacity":1},
 "encoding":{"x":{"field":"i","type":"quantitative","scale":{"domain":[0,1831],"nice":false,"zero":false},"axis":null},"y":{"field":"v","type":"quantitative","scale":{"domain":[14028,16390],"nice":false,"zero":false},"axis":null}}},
{"data":{"values":[{"i":1742,"v":14420}]},"mark":{"type":"point","shape":"M-1,-0.4H1V0.4H-1Z","size":900,"filled":false,"color":"#ff0000","strokeWidth":4,"opacity":1},
 "encoding":{"x":{"field":"i","type":"quantitative","scale":{"domain":[0,1831],"nice":false,"zero":false},"axis":null},"y":{"field":"v","type":"quantitative","scale":{"domain":[14028,16390],"nice":false,"zero":false},"axis":null}}},
{"data":{"values":[{"i":1728,"v":14440},{"i":1754,"v":14407}]},"mark":{"type":"point","shape":"square","size":30,"filled":true,"color":"#808080","stroke":"#333333","strokeWidth":1,"opacity":1},
 "encoding":{"x":{"field":"i","type":"quantitative","scale":{"domain":[0,1831],"nice":false,"zero":false},"axis":null},"y":{"field":"v","type":"quantitative","scale":{"domain":[14028,16390],"nice":false,"zero":false},"axis":null}}},
{"data":{"values":[{"i":1789,"v":15333}]},"mark":{"type":"point","shape":"M0,-1L0.2245,-0.309L0.951,-0.309L0.3633,0.118L0.5878,0.809L0,0.382L-0.5878,0.809L-0.3633,0.118L-0.951,-0.309L-0.2245,-0.309Z","size":1356,"filled":false,"color":"#2aab4a","strokeWidth":3.5,"opacity":1},
 "encoding":{"x":{"field":"i","type":"quantitative","scale":{"domain":[0,1831],"nice":false,"zero":false},"axis":null},"y":{"field":"v","type":"quantitative","scale":{"domain":[14028,16390],"nice":false,"zero":false},"axis":null}}},
{"data":{"values":[{"i":1788,"v":15240}]},"mark":{"type":"point","shape":"square","size":400,"filled":false,"color":"#0000ff","strokeWidth":3.5,"opacity":1},
 "encoding":{"x":{"field":"i","type":"quantitative","scale":{"domain":[0,1831],"nice":false,"zero":false},"axis":null},"y":{"field":"v","type":"quantitative","scale":{"domain":[14028,16390],"nice":false,"zero":false},"axis":null}}},
{"data":{"values":[{"i":85,"v":16264,"o":1},{"i":85,"v":16286,"o":2},{"i":100,"v":16286,"o":3}]},"mark":{"type":"line","color":"#d02010","strokeWidth":1},
 "encoding":{"x":{"field":"i","type":"quantitative","scale":{"domain":[0,1831],"nice":false,"zero":false},"axis":null},"y":{"field":"v","type":"quantitative","scale":{"domain":[14028,16390],"nice":false,"zero":false},"axis":null},"order":{"field":"o"}}},
{"data":{"values":[{"i":102,"v":16286,"t":"16,264,25(2023/07/19-12:00)"}]},"mark":{"type":"text","align":"left","baseline":"middle","font":"Liberation Sans","fontSize":11,"color":"#d02010"},
 "encoding":{"x":{"field":"i","type":"quantitative","scale":{"domain":[0,1831],"nice":false,"zero":false},"axis":null},"y":{"field":"v","type":"quantitative","scale":{"domain":[14028,16390],"nice":false,"zero":false},"axis":null},"text":{"field":"t"}}},
{"data":{"values":[{"i":1633,"v":14104,"o":1},{"i":1651,"v":14104,"o":2},{"i":1651,"v":14138,"o":3}]},"mark":{"type":"line","color":"#1560c8","strokeWidth":1},
 "encoding":{"x":{"field":"i","type":"quantitative","scale":{"domain":[0,1831],"nice":false,"zero":false},"axis":null},"y":{"field":"v","type":"quantitative","scale":{"domain":[14028,16390],"nice":false,"zero":false},"axis":null},"order":{"field":"o"}}},
{"data":{"values":[{"i":1651,"v":14136}]},"mark":{"type":"point","shape":"triangle-up","size":18,"filled":true,"color":"#1560c8","opacity":1},
 "encoding":{"x":{"field":"i","type":"quantitative","scale":{"domain":[0,1831],"nice":false,"zero":false},"axis":null},"y":{"field":"v","type":"quantitative","scale":{"domain":[14028,16390],"nice":false,"zero":false},"axis":null}}},
{"data":{"values":[{"i":1631,"v":14104,"t":"14,140,25(2023/10/26-13:00)"}]},"mark":{"type":"text","align":"right","baseline":"middle","font":"Liberation Sans","fontSize":11,"color":"#1560c8"},
 "encoding":{"x":{"field":"i","type":"quantitative","scale":{"domain":[0,1831],"nice":false,"zero":false},"axis":null},"y":{"field":"v","type":"quantitative","scale":{"domain":[14028,16390],"nice":false,"zero":false},"axis":null},"text":{"field":"t"}}},
{"data":{"values":[{"i":0,"i2":600,"v":16418,"v2":16364}]},"mark":{"type":"rect","color":"#ffffff","opacity":1},
 "encoding":{"x":{"field":"i","type":"quantitative","scale":{"domain":[0,1831],"nice":false,"zero":false},"axis":null},"x2":{"field":"i2"},"y":{"field":"v","type":"quantitative","scale":{"domain":[14028,16390],"nice":false,"zero":false},"axis":null},"y2":{"field":"v2"}}},
{"data":{"values":[{"i":1,"v":16390,"t":"일목균형지표(9,26,26,52,26)","s":"k"},{"i":158,"v":16390,"t":"전환선","s":"r"},{"i":196,"v":16390,"t":"기준선","s":"k"},{"i":241,"v":16390,"t":"선행스팬1","s":"o"},{"i":299,"v":16390,"t":"선행스팬2","s":"b"},{"i":367,"v":16390,"t":"DMI골든크로스(110)","s":"r"},{"i":488,"v":16390,"t":"DMI데드크로스(110)","s":"n"}]},
 "mark":{"type":"text","align":"left","baseline":"middle","font":"Noto Sans CJK KR","fontSize":12},
 "encoding":{"x":{"field":"i","type":"quantitative","scale":{"domain":[0,1831],"nice":false,"zero":false},"axis":null},"y":{"field":"v","type":"quantitative","scale":{"domain":[14028,16390],"nice":false,"zero":false},"axis":null},"text":{"field":"t"},"color":{"field":"s","type":"nominal","scale":{"domain":["k","r","o","b","n"],"range":["#000000","#ff0000","#ffa040","#1e8cff","#0000ff"]},"legend":null}}},
{"data":{"values":[{"i":362,"v":16390},{"i":483,"v":16390}]},"mark":{"type":"point","shape":"M-0.5,-1H0.5V1H-0.5Z","size":64,"filled":true,"color":"#5a5a5a","opacity":1},
 "encoding":{"x":{"field":"i","type":"quantitative","scale":{"domain":[0,1831],"nice":false,"zero":false},"axis":null},"y":{"field":"v","type":"quantitative","scale":{"domain":[14028,16390],"nice":false,"zero":false},"axis":null}}},
{"data":{"values":[{"i":1858,"v":15189}]},"mark":{"type":"point","shape":"M-1.12,0L-1,-0.25V-0.685H1V0.685H-1V0.25Z","size":2916,"filled":true,"color":"#cc3a12","opacity":1,"strokeWidth":0},
 "encoding":{"x":{"field":"i","type":"quantitative","scale":{"domain":[0,1831],"nice":false,"zero":false},"axis":null},"y":{"field":"v","type":"quantitative","scale":{"domain":[14028,16390],"nice":false,"zero":false},"axis":null}}},
{"data":{"values":[{"i":1883,"v":15189,"t":["15186,25","+1,26%","▲188,25"]}]},"mark":{"type":"text","align":"right","baseline":"middle","dy":-12,"font":"Liberation Sans","fontSize":10.5,"lineHeight":12,"color":"#ffffff"},
 "encoding":{"x":{"field":"i","type":"quantitative","scale":{"domain":[0,1831],"nice":false,"zero":false},"axis":null},"y":{"field":"v","type":"quantitative","scale":{"domain":[14028,16390],"nice":false,"zero":false},"axis":null},"text":{"field":"t"}}}
]
}
